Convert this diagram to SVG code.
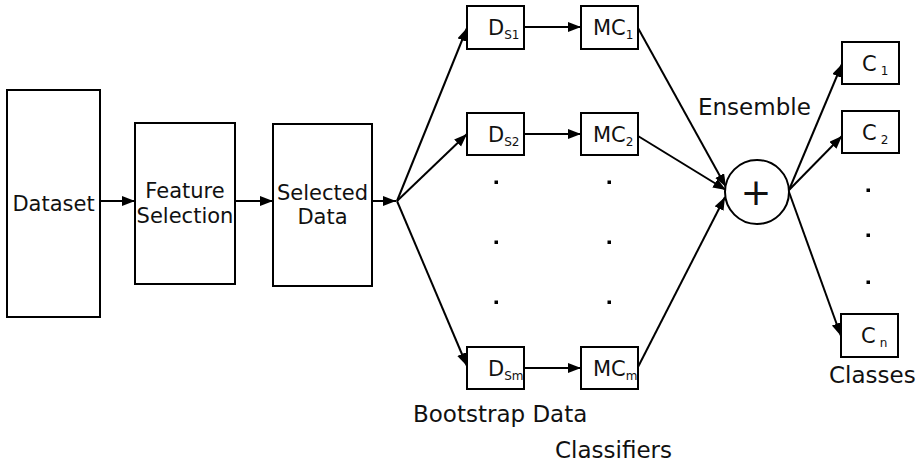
<svg xmlns="http://www.w3.org/2000/svg" width="921" height="465" viewBox="0 0 921 465">
<style>
.box{fill:#fff;stroke:#000;stroke-width:2}
.t{font-family:"DejaVu Sans",sans-serif;font-size:21px;fill:#111;text-anchor:middle}
.s{font-family:"DejaVu Sans",sans-serif;font-size:21px;fill:#111}
.lab{font-family:"DejaVu Sans",sans-serif;font-size:23px;fill:#111}
.sub{font-size:12px}
.c line{stroke:#000;stroke-width:2;marker-end:url(#ah)}
.dot{fill:#000}
</style>
<defs>
<marker id="ah" markerUnits="userSpaceOnUse" markerWidth="14" markerHeight="11" refX="13" refY="5" orient="auto">
<path d="M0,0 L13,5 L0,10 z" fill="#000"/>
</marker>
</defs>
<rect width="921" height="465" fill="#fff"/>
<g id="connectors" class="c">
<line x1="100" y1="201" x2="135" y2="201"/>
<line x1="235" y1="201" x2="273" y2="201"/>
<line x1="372" y1="201" x2="396" y2="201"/>
<line x1="397" y1="201" x2="467" y2="28"/>
<line x1="397" y1="201" x2="467" y2="134"/>
<line x1="397" y1="201" x2="467" y2="366"/>
<line x1="524" y1="27" x2="581" y2="27"/>
<line x1="524" y1="134" x2="581" y2="134"/>
<line x1="524" y1="368" x2="581" y2="368"/>
<line x1="638" y1="28" x2="726" y2="187"/>
<line x1="638" y1="136" x2="726" y2="190"/>
<line x1="638" y1="367" x2="725" y2="197"/>
<line x1="789" y1="190" x2="842" y2="64"/>
<line x1="789" y1="190" x2="842" y2="136"/>
<line x1="789" y1="192" x2="841" y2="336"/>
</g>
<g id="dataset"><rect class="box" x="7" y="90" width="93" height="227"/><text class="t" x="53.5" y="211">Dataset</text></g>
<g id="feature-selection"><rect class="box" x="135" y="123" width="100" height="161"/><text class="t" x="185" y="198">Feature</text><text class="t" x="185" y="223">Selection</text></g>
<g id="selected-data"><rect class="box" x="273" y="124" width="99" height="162"/><text class="t" x="322.5" y="200">Selected</text><text class="t" x="322.5" y="224">Data</text></g>
<g id="ds1"><rect class="box" x="467" y="6" width="57" height="43"/><text class="s" x="488" y="35">D<tspan class="sub" dy="4">S1</tspan></text></g>
<g id="ds2"><rect class="box" x="467" y="113" width="57" height="42"/><text class="s" x="488" y="142">D<tspan class="sub" dy="4">S2</tspan></text></g>
<g id="dsm"><rect class="box" x="467" y="347" width="57" height="42"/><text class="s" x="488" y="376">D<tspan class="sub" dy="4">Sm</tspan></text></g>
<g id="mc1"><rect class="box" x="581" y="6" width="57" height="43"/><text class="s" x="593" y="35">MC<tspan class="sub" dy="4">1</tspan></text></g>
<g id="mc2"><rect class="box" x="581" y="113" width="57" height="42"/><text class="s" x="593" y="142">MC<tspan class="sub" dy="4">2</tspan></text></g>
<g id="mcm"><rect class="box" x="581" y="347" width="57" height="42"/><text class="s" x="593" y="376">MC<tspan class="sub" dy="4">m</tspan></text></g>
<g id="ensemble"><circle class="box" cx="757" cy="192" r="32"/><text class="t" x="756" y="205" style="font-size:37px">+</text><text class="lab" x="698" y="115">Ensemble</text></g>
<g id="c1"><rect class="box" x="842" y="42" width="57" height="42"/><text class="s" x="862" y="71">C<tspan class="sub" dx="4" dy="4">1</tspan></text></g>
<g id="c2"><rect class="box" x="842" y="111" width="57" height="42"/><text class="s" x="862" y="140">C<tspan class="sub" dx="4" dy="4">2</tspan></text></g>
<g id="cn"><rect class="box" x="841" y="314" width="57" height="43"/><text class="s" x="861" y="343">C<tspan class="sub" dx="4" dy="4">n</tspan></text></g>
<g id="dots">
<rect class="dot" x="494.5" y="180.5" width="3.5" height="3.5"/>
<rect class="dot" x="494.5" y="240.5" width="3.5" height="3.5"/>
<rect class="dot" x="494.5" y="300.5" width="3.5" height="3.5"/>
<rect class="dot" x="607.5" y="180.5" width="3.5" height="3.5"/>
<rect class="dot" x="607.5" y="240.5" width="3.5" height="3.5"/>
<rect class="dot" x="607.5" y="300.5" width="3.5" height="3.5"/>
<rect class="dot" x="866.5" y="188.5" width="3.5" height="3.5"/>
<rect class="dot" x="866.5" y="233.5" width="3.5" height="3.5"/>
<rect class="dot" x="866.5" y="280.5" width="3.5" height="3.5"/>
</g>
<g id="labels">
<text class="lab" x="413" y="422">Bootstrap Data</text>
<text class="lab" x="555" y="458">Classifiers</text>
<text class="lab" x="829" y="383">Classes</text>
</g>
</svg>
